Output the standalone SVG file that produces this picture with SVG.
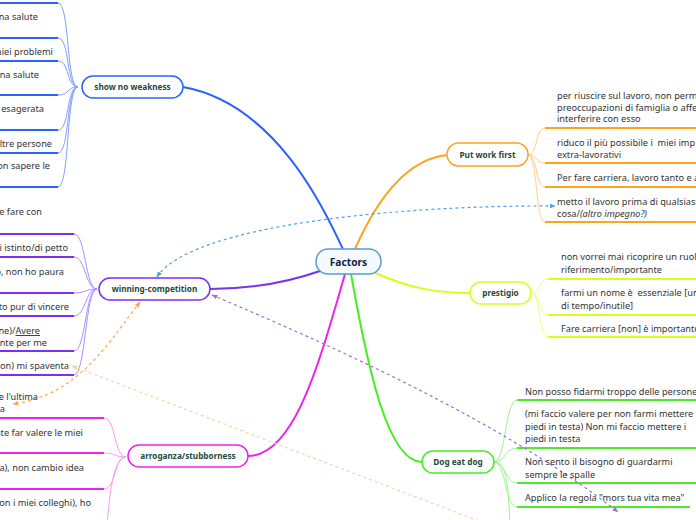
<svg xmlns="http://www.w3.org/2000/svg" width="696" height="520" viewBox="0 0 696 520">
<defs>
<style>
.leaf{font-family:"Noto Sans","Liberation Sans",sans-serif;font-size:9.2px;fill:#333}
.end{text-anchor:end}
.nt{font-family:"Noto Sans","Liberation Sans",sans-serif;font-size:8.2px;font-weight:bold;fill:#1c4a3c;text-anchor:middle}
.node{fill:#fff;stroke-width:1.5}
.br{fill:none;stroke-width:2}
.thin{fill:none;stroke-width:1}
.ul{fill:none;stroke-width:2.2}
.rel{fill:none;stroke-width:1.2;stroke-dasharray:3 3}
</style>
<marker id="mBlue" viewBox="0 0 10 10" refX="9" refY="5" markerWidth="6" markerHeight="6" markerUnits="userSpaceOnUse" orient="auto-start-reverse"><path d="M0,1 L10,5 L0,9 z" fill="#4f9ded"/></marker>
<marker id="mOrange" viewBox="0 0 10 10" refX="9" refY="5" markerWidth="6" markerHeight="6" markerUnits="userSpaceOnUse" orient="auto-start-reverse"><path d="M0,1 L10,5 L0,9 z" fill="#ffa54a"/></marker>
<marker id="mPurple" viewBox="0 0 10 10" refX="9" refY="5" markerWidth="6" markerHeight="6" markerUnits="userSpaceOnUse" orient="auto-start-reverse"><path d="M0,1 L10,5 L0,9 z" fill="#9673cf"/></marker>
<marker id="mPeach" viewBox="0 0 10 10" refX="9" refY="5" markerWidth="6" markerHeight="6" markerUnits="userSpaceOnUse" orient="auto-start-reverse"><path d="M0,1 L10,5 L0,9 z" fill="#f5d3a6"/></marker>
</defs>
<rect width="696" height="520" fill="#fff"/>

<g id="connectors">
  <!-- main branches -->
  <path class="br" stroke="#2962ff" d="M343,249 C335,235 285,105 183,87"/>
  <path class="br" stroke="#ffa31a" d="M355,249 C370,215 400,160 447,155"/>
  <path class="br" stroke="#7b2ff0" d="M320,271 C280,285 240,289 210,289"/>
  <path class="br" stroke="#d6ff1f" d="M375,273 C410,288 435,293 470,293"/>
  <path class="br" stroke="#ee22ee" d="M345,274 C320,360 295,456 248,456"/>
  <path class="br" stroke="#44ee22" d="M351,274 C368,370 388,462 422,462"/>

  <!-- show no weakness leaves -->
  <g stroke="#7f9fff" class="thin">
    <path d="M78,87 C66,87 70,3 58,3"/>
    <path d="M78,87 C66,87 70,38 58,38"/>
    <path d="M78,87 C66,87 70,61 58,61"/>
    <path d="M78,87 C66,87 70,95 58,95"/>
    <path d="M78,87 C66,87 70,130 58,130"/>
    <path d="M78,87 C66,87 70,153 58,153"/>
    <path d="M78,87 C66,87 70,187 58,187"/>
  </g>
  <g stroke="#2962ff" class="ul">
    <path d="M-5,3 H58 M-5,38 H58 M-5,61 H58 M-5,95 H58 M-5,130 H58 M-5,153 H58 M-5,187 H58"/>
  </g>

  <!-- winning-competition leaves -->
  <g stroke="#ad8cff" class="thin">
    <path d="M97,289 C85,289 86,234 74,234"/>
    <path d="M97,289 C85,289 86,257 74,257"/>
    <path d="M97,289 C85,289 86,293 74,293"/>
    <path d="M97,289 C85,289 86,316 74,316"/>
    <path d="M97,289 C85,289 86,351 74,351"/>
    <path d="M97,289 C85,289 86,375 74,375"/>
  </g>
  <g stroke="#7b2ff0" class="ul">
    <path d="M-5,234 H74 M-5,257 H74 M-5,293 H74 M-5,316 H74 M-5,351 H74 M-5,375 H74"/>
  </g>

  <!-- arroganza leaves -->
  <g stroke="#f69cf6" class="thin">
    <path d="M126,457 C114,457 116,418 104,418"/>
    <path d="M126,457 C114,457 116,453 104,453"/>
    <path d="M126,457 C114,457 116,489 104,489"/>
    <path d="M126,457 C114,457 110,490 107,525"/>
  </g>
  <g stroke="#ee22ee" class="ul">
    <path d="M-5,418 H104 M-5,453 H104 M-5,489 H104"/>
  </g>

  <!-- put work first leaves -->
  <g stroke="#ffd08a" class="thin">
    <path d="M528,155 C538,155 535,128 545,128"/>
    <path d="M528,155 C538,155 535,163 545,163"/>
    <path d="M528,155 C538,155 535,187 545,187"/>
    <path d="M528,155 C538,155 535,222 545,222"/>
  </g>
  <g stroke="#ffa31a" class="ul">
    <path d="M545,128 H700 M545,163 H700 M545,187 H700 M545,222 H700"/>
  </g>

  <!-- prestigio leaves -->
  <g stroke="#e9ff8a" class="thin">
    <path d="M531,293 C541,293 538,279 548,279"/>
    <path d="M531,293 C541,293 538,315 548,315"/>
    <path d="M531,293 C541,293 538,337 548,337"/>
  </g>
  <g stroke="#d6ff1f" class="ul">
    <path d="M548,279 H700 M548,315 H700 M548,337 H700"/>
  </g>

  <!-- dog eat dog leaves -->
  <g stroke="#9cf58a" class="thin">
    <path d="M494,462 C506,462 505,400 517,400"/>
    <path d="M494,462 C506,462 505,448 517,448"/>
    <path d="M494,462 C506,462 505,483 517,483"/>
    <path d="M494,462 C506,462 505,507 517,507"/>
    <path d="M494,462 C506,462 508,480 510,525"/>
  </g>
  <g stroke="#4eea2a" class="ul">
    <path d="M517,400 H700 M517,448 H700 M517,483 H700 M517,507 H690"/>
  </g>

  <!-- relationships -->
  <path class="rel" stroke="#4f9ded" d="M157,277 C190,225 400,205 555,206" marker-start="url(#mBlue)" marker-end="url(#mBlue)"/>
  <path class="rel" stroke="#ffa54a" d="M140,302 C110,340 80,395 13,404" marker-start="url(#mOrange)" marker-end="url(#mOrange)"/>
  <path class="rel" stroke="#9673cf" d="M212,295 C330,345 500,420 618,512" marker-start="url(#mPurple)" marker-end="url(#mPurple)"/>
  <path class="rel" stroke="#f5d3a6" d="M72,366 L500,529" marker-start="url(#mPeach)"/>
</g>

<g id="factors">
  <rect x="316" y="249" width="65" height="25" rx="12" fill="#f5faff" stroke="#5b9bd5" stroke-width="1.5"/>
  <text x="348.5" y="265.5" font-family="Noto Sans, Liberation Sans, sans-serif" font-size="10.2" font-weight="bold" fill="#0f2144" text-anchor="middle">Factors</text>
</g>

<g id="show-no-weakness">
  <rect class="node" x="82" y="76" width="101" height="22" rx="11" stroke="#2962ff"/>
  <text class="nt" x="132.5" y="90">show no weakness</text>
</g>
<g id="snw-leaves">
  <text class="leaf end" x="38" y="20">ona salute</text>
  <text class="leaf end" x="53" y="55">miei problemi</text>
  <text class="leaf end" x="39" y="78">ona salute</text>
  <text class="leaf end" x="44" y="112">a esagerata</text>
  <text class="leaf end" x="52" y="147">altre persone</text>
  <text class="leaf end" x="50" y="169">on sapere le</text>
</g>

<g id="winning-competition">
  <rect class="node" x="99" y="278" width="111" height="22" rx="11" stroke="#7b2ff0"/>
  <text class="nt" x="154.5" y="292">winning-competition</text>
</g>
<g id="wc-leaves">
  <text class="leaf end" x="42" y="215">e fare con</text>
  <text class="leaf end" x="68" y="251">i istinto/di petto</text>
  <text class="leaf end" x="64" y="275">o, non ho paura</text>
  <text class="leaf end" x="69" y="310">to pur di vincere</text>
  <text class="leaf end" x="40" y="334">ne)/<tspan text-decoration="underline">Avere</tspan></text>
  <text class="leaf end" x="47" y="346">nte per me</text>
  <text class="leaf end" x="69" y="369">on) mi spaventa</text>
</g>

<g id="arroganza">
  <rect class="node" x="128" y="445" width="120" height="22" rx="11" stroke="#ee22ee"/>
  <text class="nt" x="188" y="459">arroganza/stubborness</text>
</g>
<g id="arr-leaves">
  <text class="leaf end" x="38" y="400">e l'ultima</text>
  <text class="leaf end" x="5" y="412">a</text>
  <text class="leaf end" x="83" y="436">nte far valere le miei</text>
  <text class="leaf end" x="84" y="471">a), non cambio idea</text>
  <text class="leaf end" x="91" y="506">on i miei colleghi), ho</text>
</g>

<g id="put-work-first">
  <rect class="node" x="447" y="143" width="81" height="23" rx="11.5" stroke="#ffa31a"/>
  <text class="nt" x="487.5" y="158">Put work first</text>
</g>
<g id="pwf-leaves">
  <text class="leaf" x="557" y="99">per riuscire sul lavoro, non permet</text>
  <text class="leaf" x="557" y="110.5">preoccupazioni di famiglia o affetti</text>
  <text class="leaf" x="557" y="122">interferire con esso</text>
  <text class="leaf" x="557" y="146">riduco il più possibile i&#160; miei imp</text>
  <text class="leaf" x="557" y="158">extra-lavorativi</text>
  <text class="leaf" x="557" y="181">Per fare carriera, lavoro tanto e a</text>
  <text class="leaf" x="557" y="205">metto il lavoro prima di qualsiasi</text>
  <text class="leaf" x="557" y="217">cosa/<tspan font-style="italic">(altro impegno?)</tspan></text>
</g>

<g id="prestigio">
  <rect class="node" x="470" y="282" width="61" height="22" rx="11" stroke="#d6ff1f"/>
  <text class="nt" x="500.5" y="296">prestigio</text>
</g>
<g id="pr-leaves">
  <text class="leaf" x="561" y="260">non vorrei mai ricoprire un ruolo</text>
  <text class="leaf" x="561" y="273">riferimento/importante</text>
  <text class="leaf" x="561" y="296">farmi un nome è&#160; essenziale [un</text>
  <text class="leaf" x="561" y="309">di tempo/inutile]</text>
  <text class="leaf" x="561" y="332">Fare carriera [non] è importante</text>
</g>

<g id="dog-eat-dog">
  <rect class="node" x="422" y="451" width="72" height="22" rx="11" stroke="#44ee22"/>
  <text class="nt" x="458" y="465">Dog eat dog</text>
</g>
<g id="ded-leaves">
  <text class="leaf" x="525" y="395">Non posso fidarmi troppo delle persone</text>
  <text class="leaf" x="525" y="417">(mi faccio valere per non farmi mettere i</text>
  <text class="leaf" x="525" y="430">piedi in testa) Non mi faccio mettere i</text>
  <text class="leaf" x="525" y="442">piedi in testa</text>
  <text class="leaf" x="525" y="465">Non sento il bisogno di guardarmi</text>
  <text class="leaf" x="525" y="478">sempre le spalle</text>
  <text class="leaf" x="525" y="501">Applico la regola "mors tua vita mea"</text>
</g>
</svg>
